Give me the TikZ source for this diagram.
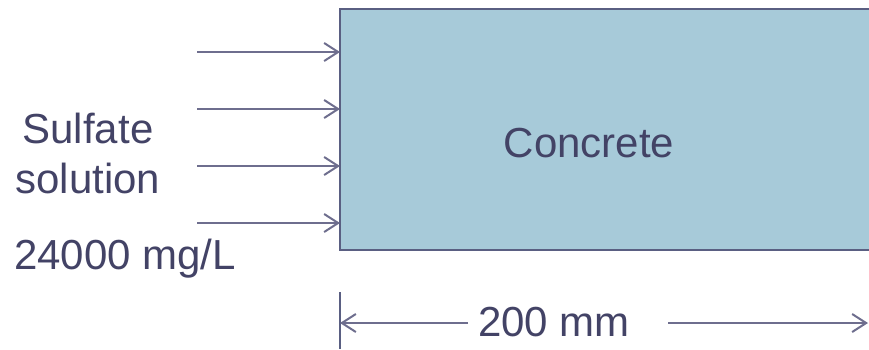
\documentclass[tikz,border=0pt]{standalone}
\usepackage{fontspec}
\setmainfont{Liberation Sans}
\usetikzlibrary{arrows.meta, positioning}

\definecolor{concretefill}{HTML}{A7CAD9}
\definecolor{edgecol}{HTML}{5A5F82}
\definecolor{flowcol}{HTML}{6E6E8E}
\definecolor{txtcol}{HTML}{434366}

\tikzset{
  flow/.style={draw=flowcol, line width=2pt, -{Straight Barb[length=14pt,width=18pt]}},
  lbl/.style={text=txtcol, font=\fontsize{42}{46}\selectfont, inner sep=0pt, anchor=base}
}

\begin{document}
\begin{tikzpicture}[x=1pt, y=-1pt]  % Begins a TikZ picture environment, units in pixels
    \useasboundingbox (0,0) rectangle (869,349);  % Fixes the page size
    \node[fill=concretefill, anchor=north west, minimum width=560pt,
          minimum height=241pt, inner sep=0pt] (concrete) at (340,9) {};  % Concrete block, runs past the right edge
    \draw[edgecol, line width=2pt] (concrete.north east) -- (concrete.north west)
          -- (concrete.south west) -- (concrete.south east);  % Block outline, open on the right
    \node[lbl] (concretelbl) at (589,157) {Concrete};  % Block label
    \foreach \i/\y in {1/52, 2/109, 3/166, 4/223} {
        \coordinate (src\i) at (197,\y);  % Start of incoming arrow
        \draw[flow] (src\i) -- (src\i -| concrete.west);  % Sulfate flow arrow
    }
    \node[lbl] (sulfate) at (88,143) {Sulfate};  % Solution label
    \node[lbl] (solution) at (88,193) {solution};
    \node[lbl] (conc) at (125,269) {24000 mg/L};  % Concentration
    \coordinate (tickTop) at (340,292);
    \coordinate (tickBot) at (340,349);
    \draw[edgecol, line width=2pt] (tickTop) -- (tickBot);  % Dimension tick
    \node[lbl] (dim) at (554,336) {200 mm};  % Dimension label
    \coordinate (dimL) at (468,323);
    \coordinate (dimR) at (668,323);
    \draw[flow] (dimL) -- (dimL -| tickTop);  % Left dimension arrow
    \draw[flow] (dimR) -- (868,323);  % Right dimension arrow
\end{tikzpicture}
\end{document}
